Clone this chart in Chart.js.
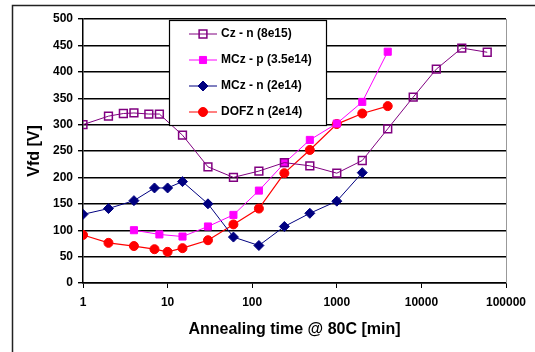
<!DOCTYPE html>
<html>
<head>
<meta charset="utf-8">
<script src="https://cdn.jsdelivr.net/npm/chart.js@4"></script>
<style>
  html, body { margin: 0; padding: 0; background: #fff; }
  #wrap { width: 535px; height: 352px; }
</style>
</head>
<body>
<div id="wrap"><canvas id="vfd-chart" width="535" height="352"></canvas></div>
<script>
// annealing times [min] and full depletion voltages [V]
const czTimes = [1, 2, 3, 4, 6, 8, 15, 30, 60, 120, 240, 480, 1000, 2000, 4000, 8000, 15000, 30000, 60000];
const czValues = [300, 316, 321, 322, 320, 320, 280, 220, 200, 212, 228, 222, 208, 232, 292, 352, 405, 445, 437];

const mczpTimes = [4, 8, 15, 30, 60, 120, 240, 480, 1000, 2000, 4000];
const mczpValues = [100, 92, 88, 107, 129, 175, 227, 271, 302, 343, 438];

const mcznTimes = [1, 2, 4, 7, 10, 15, 30, 60, 120, 240, 480, 1000, 2000];
const mcznValues = [130, 141, 156, 180, 180, 192, 150, 87, 71, 107, 132, 155, 209];

const dofzTimes = [1, 2, 4, 7, 10, 15, 30, 60, 120, 240, 480, 1000, 2000, 4000];
const dofzValues = [91, 76, 70, 64, 59, 66, 81, 111, 141, 208, 252, 301, 321, 335];

const seriesLabels = ['Cz - n (8e15)', 'MCz - p (3.5e14)', 'MCz - n (2e14)', 'DOFZ n (2e14)'];
const xTickValues = [1, 10, 100, 1000, 10000, 100000];

const FONT = "'Liberation Sans', Arial, sans-serif";

function toPoints(times, values) {
    return times.map((t, i) => ({x: t, y: values[i]}));
}

// frame round the whole figure, right plot border and the boxed legend
const framePlugin = {
    id: 'framePlugin',
    afterDraw(chart) {
        const ctx = chart.ctx;
        const area = chart.chartArea;
        ctx.save();
        ctx.strokeStyle = '#222';
        ctx.lineWidth = 1.5;
        ctx.strokeRect(12.5, 5.5, 700, 500);

        ctx.strokeStyle = '#999';
        ctx.lineWidth = 1;
        ctx.beginPath();
        ctx.moveTo(area.right + 0.5, area.top);
        ctx.lineTo(area.right + 0.5, area.bottom);
        ctx.stroke();

        // legend box
        const bx = 169, by = 20, bw = 157, bh = 105;
        ctx.fillStyle = '#fff';
        ctx.fillRect(bx, by, bw, bh);
        ctx.strokeStyle = '#000';
        ctx.lineWidth = 1.2;
        ctx.strokeRect(bx + 0.5, by + 0.5, bw, bh);

        const rows = [34, 60, 86, 112];
        chart.data.datasets.forEach((ds, i) => {
            const y = rows[i];
            ctx.strokeStyle = ds.borderColor;
            ctx.lineWidth = 1;
            ctx.beginPath();
            ctx.moveTo(189, y);
            ctx.lineTo(217, y);
            ctx.stroke();
            ctx.fillStyle = ds.pointBackgroundColor;
            ctx.strokeStyle = ds.pointBorderColor;
            ctx.lineWidth = ds.pointBorderWidth;
            Chart.helpers.drawPoint(ctx, {
                pointStyle: ds.pointStyle,
                radius: ds.pointRadius,
                borderWidth: ds.pointBorderWidth
            }, 203, y);
            ctx.fillStyle = '#000';
            ctx.font = 'bold 12px ' + FONT;
            ctx.textBaseline = 'middle';
            ctx.fillText(ds.label, 221, y);
        });
        ctx.restore();
    }
};

new Chart(document.getElementById('vfd-chart').getContext('2d'), {
    type: 'line',
    data: {
        datasets: [{
            label: seriesLabels[0],
            data: toPoints(czTimes, czValues),
            borderColor: '#800080',
            borderWidth: 1,
            pointStyle: 'rect',
            pointRadius: 5.5,
            pointBorderWidth: 1.5,
            pointBackgroundColor: 'rgba(0,0,0,0)',
            pointBorderColor: '#800080'
        }, {
            label: seriesLabels[1],
            data: toPoints(mczpTimes, mczpValues),
            borderColor: '#ff00ff',
            borderWidth: 1,
            pointStyle: 'rect',
            pointRadius: 5,
            pointBorderWidth: 1,
            pointBackgroundColor: '#ff00ff',
            pointBorderColor: '#ff00ff'
        }, {
            label: seriesLabels[2],
            data: toPoints(mcznTimes, mcznValues),
            borderColor: '#000080',
            borderWidth: 1,
            pointStyle: 'rectRot',
            pointRadius: 5,
            pointBorderWidth: 1,
            pointBackgroundColor: '#000080',
            pointBorderColor: '#000080'
        }, {
            label: seriesLabels[3],
            data: toPoints(dofzTimes, dofzValues),
            borderColor: '#ff0000',
            borderWidth: 1.2,
            pointStyle: 'circle',
            pointRadius: 4.5,
            pointBorderWidth: 1,
            pointBackgroundColor: '#ff0000',
            pointBorderColor: '#ff0000'
        }]
    },
    options: {
        responsive: false,
        animation: false,
        layout: {padding: {left: 25, right: 29, top: 19, bottom: 13}},
        plugins: {
            legend: {display: false},
            tooltip: {enabled: false}
        },
        scales: {
            x: {
                type: 'logarithmic',
                min: 1,
                max: 100000,
                afterBuildTicks: scale => {
                    scale.ticks = xTickValues.map(v => ({value: v}));
                },
                afterFit: scale => { scale.height = 56; },
                ticks: {
                    color: '#000',
                    font: {family: FONT, size: 12, weight: 'bold'},
                    maxRotation: 0,
                    padding: 7,
                    callback: v => String(v)
                },
                grid: {drawOnChartArea: false, color: '#000', tickLength: 5},
                border: {color: '#000', width: 1.5},
                title: {
                    display: true,
                    text: 'Annealing time @ 80C [min]',
                    color: '#000',
                    font: {family: FONT, size: 16, weight: 'bold'},
                    padding: {top: 4, bottom: 0}
                }
            },
            y: {
                min: 0,
                max: 500,
                afterFit: scale => { scale.width = 58; },
                ticks: {
                    stepSize: 50,
                    color: '#000',
                    font: {family: FONT, size: 12, weight: 'bold'},
                    padding: 5
                },
                grid: {color: '#000', lineWidth: 1.4, tickLength: 5},
                border: {color: '#000', width: 1.5},
                title: {
                    display: true,
                    text: 'Vfd [V]',
                    color: '#000',
                    font: {family: FONT, size: 16, weight: 'bold'},
                    padding: {top: 0, bottom: 0}
                }
            }
        }
    },
    plugins: [framePlugin]
});
</script>
</body>
</html>
